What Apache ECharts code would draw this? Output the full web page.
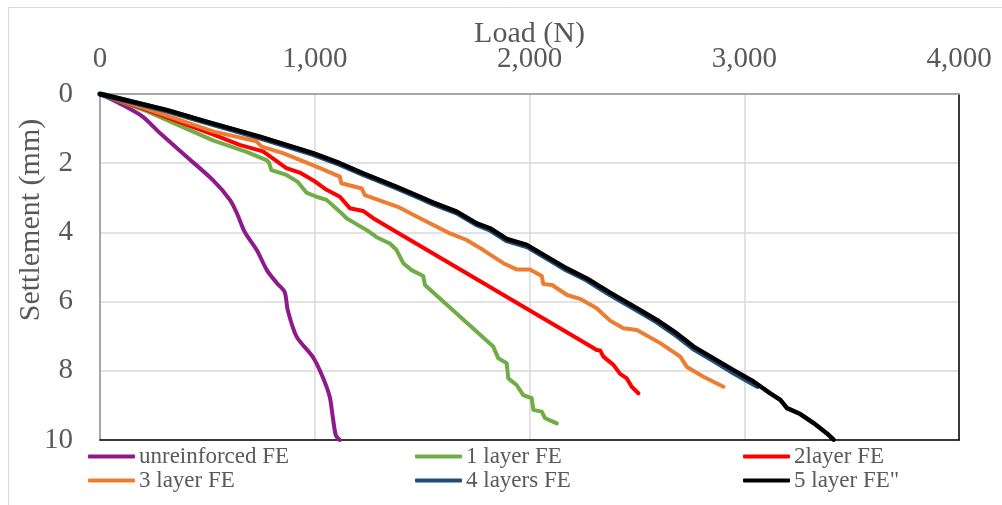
<!DOCTYPE html>
<html>
<head>
<meta charset="utf-8">
<script src="https://cdn.jsdelivr.net/npm/echarts@6/dist/echarts.min.js"></script>
<style>
html,body{margin:0;padding:0;background:#fff;}
#chart{width:1002px;height:505px;}
</style>
</head>
<body>
<div id="chart"></div>
<script>
// Load (N) ticks and Settlement (mm) ticks
const loadTicks = [0, 1000, 2000, 3000, 4000];
const settleTicks = [0, 2, 4, 6, 8, 10];

const seriesNames = ['unreinforced FE', '1 layer FE', '2layer FE', '3 layer FE', '4 layers FE', '5 layer FE"'];
const xTitle = 'Load (N)';
const yTitle = 'Settlement (mm)';

// [load (N), settlement (mm)]
const unreinforcedFE = [[0,0],[100,0.30],[200,0.66],[279,1.13],[405,1.82],[526,2.49],[605,3.06],[637,3.44],[674,3.99],[730,4.51],[777,5.09],[823,5.46],[860,5.72],[874,6.24],[916,7.02],[991,7.60],[1037,8.18],[1070,8.76],[1084,9.34],[1098,9.86],[1116,10.0]];

const layer1FE = [[0,0],[215,0.49],[526,1.34],[682,1.67],[775,1.91],[786,1.97],[798,2.20],[868,2.34],[921,2.54],[961,2.85],[1008,2.97],[1055,3.06],[1117,3.40],[1148,3.59],[1194,3.76],[1241,3.93],[1288,4.14],[1350,4.32],[1381,4.51],[1412,4.89],[1451,5.09],[1505,5.26],[1513,5.52],[1831,7.30],[1855,7.64],[1894,7.78],[1901,8.22],[1940,8.41],[1971,8.70],[2010,8.79],[2018,9.13],[2057,9.18],[2072,9.37],[2127,9.52]];

const layer2FE = [[0,0],[215,0.45],[526,1.17],[650,1.47],[759,1.66],[868,2.14],[930,2.27],[992,2.49],[1055,2.77],[1117,2.97],[1163,3.30],[1225,3.38],[1272,3.59],[2235,7.11],[2313,7.40],[2329,7.41],[2344,7.59],[2391,7.83],[2422,8.09],[2453,8.22],[2476,8.46],[2507,8.65]];

const layer3FE = [[0,0],[215,0.42],[526,1.08],[682,1.30],[728,1.37],[753,1.52],[852,1.71],[1008,2.10],[1117,2.39],[1124,2.58],[1219,2.73],[1233,2.92],[1387,3.26],[1490,3.59],[1630,4.03],[1707,4.22],[1785,4.51],[1878,4.89],[1940,5.07],[2002,5.07],[2057,5.26],[2064,5.49],[2105,5.52],[2175,5.81],[2235,5.92],[2313,6.19],[2375,6.55],[2437,6.77],[2500,6.82],[2609,7.20],[2702,7.59],[2733,7.89],[2810,8.17],[2903,8.46]];

const layer4FE = [[0,0],[309,0.48],[495,0.82],[744,1.26],[992,1.74],[1117,2.03],[1225,2.32],[1381,2.71],[1490,3.00],[1552,3.17],[1661,3.43],[1754,3.77],[1816,3.92],[1894,4.23],[1987,4.40],[2080,4.74],[2173,5.08],[2267,5.37],[2375,5.79],[2500,6.24],[2593,6.58],[2686,6.98],[2764,7.36],[2857,7.70],[2950,8.05],[3061,8.44]];

const layer5FE = [[0,0],[309,0.46],[495,0.80],[744,1.23],[992,1.71],[1117,2.00],[1225,2.29],[1381,2.68],[1490,2.97],[1552,3.14],[1661,3.40],[1754,3.74],[1816,3.88],[1894,4.19],[1987,4.36],[2080,4.70],[2173,5.04],[2267,5.33],[2375,5.74],[2500,6.19],[2593,6.53],[2686,6.92],[2764,7.30],[2857,7.64],[2950,7.98],[3043,8.31],[3121,8.65],[3168,8.84],[3199,9.08],[3261,9.25],[3323,9.51],[3385,9.81],[3416,9.99]];

const seriesData = [unreinforcedFE, layer1FE, layer2FE, layer3FE, layer4FE, layer5FE];
const seriesColors = ['#8e1b8c', '#70ad47', '#ff0000', '#ed7d31', '#1f4e79', '#000000'];
const seriesWidths = [4, 4, 4, 4, 5.5, 4.5];
const seriesSmooth = [0.25, 0, 0, 0, 0, 0];

const FONT = '"Liberation Serif", "Times New Roman", serif';
const GREY = '#595959';

const chart = echarts.init(document.getElementById('chart'), null, {renderer: 'canvas'});

function legendCol(names, left) {
  return {
    data: names, left: left, top: 445, orient: 'vertical', padding: 0,
    itemGap: 1, itemWidth: 47, itemHeight: 4, icon: 'roundRect',
    textStyle: {fontFamily: FONT, fontSize: 23, color: GREY, padding: [0,0,0,-1]}
  };
}

const option = {
  animation: false,
  backgroundColor: '#fff',
  graphic: [{
    type: 'rect', shape: {x: 8.5, y: 7.5, width: 1010, height: 520},
    style: {fill: 'none', stroke: '#d9d9d9', lineWidth: 1}, silent: true
  }, {
    type: 'text', x: 31, y: 220, rotation: Math.PI / 2, silent: true,
    style: {text: yTitle, fontFamily: FONT, fontSize: 30, fill: GREY, align: 'center', verticalAlign: 'middle'}
  }],
  legend: [
    legendCol([seriesNames[0], seriesNames[3]], 88),
    legendCol([seriesNames[1], seriesNames[4]], 415),
    legendCol([seriesNames[2], seriesNames[5]], 743)
  ],
  grid: {left: 100, right: 43, top: 94, bottom: 65, containLabel: false},
  xAxis: [{
    type: 'value', position: 'top', min: loadTicks[0], max: loadTicks[loadTicks.length-1],
    interval: loadTicks[1] - loadTicks[0],
    name: xTitle, nameLocation: 'middle', nameGap: 45, nameMoveOverlap: false,
    nameTextStyle: {fontFamily: FONT, fontSize: 30, color: GREY},
    axisLine: {show: true, lineStyle: {color: '#a6a6a6', width: 2}},
    axisTick: {show: false},
    axisLabel: {fontFamily: FONT, fontSize: 29, color: GREY, margin: 20,
      formatter: v => v.toLocaleString('en-US')},
    splitLine: {show: true, lineStyle: {color: '#d9d9d9', width: 1.5}}
  }, {
    type: 'value', position: 'bottom', min: loadTicks[0], max: loadTicks[loadTicks.length-1],
    axisLine: {show: true, onZero: false, lineStyle: {color: '#000', width: 1.5}},
    axisTick: {show: false}, axisLabel: {show: false}, splitLine: {show: false}
  }],
  yAxis: [{
    type: 'value', inverse: true, min: settleTicks[0], max: settleTicks[settleTicks.length-1],
    interval: settleTicks[1] - settleTicks[0],
    axisLine: {show: true, onZero: false, lineStyle: {color: '#a6a6a6', width: 2}},
    axisTick: {show: false},
    axisLabel: {fontFamily: FONT, fontSize: 29, color: GREY, margin: 27},
    splitLine: {show: true, lineStyle: {color: '#d9d9d9', width: 1.5}}
  }, {
    type: 'value', position: 'right', inverse: true, min: settleTicks[0], max: settleTicks[settleTicks.length-1],
    axisLine: {show: true, onZero: false, lineStyle: {color: '#000', width: 1.5}},
    axisTick: {show: false}, axisLabel: {show: false}, splitLine: {show: false}
  }],
  series: seriesNames.map((n, i) => ({
    name: n, type: 'line', data: seriesData[i], showSymbol: false, symbol: 'none',
    xAxisIndex: 0, yAxisIndex: 0, z: 2 + i, smooth: seriesSmooth[i],
    itemStyle: {color: seriesColors[i]},
    lineStyle: {color: seriesColors[i], width: seriesWidths[i], join: 'round', cap: 'round'}
  }))
};
chart.setOption(option);
</script>
</body>
</html>
